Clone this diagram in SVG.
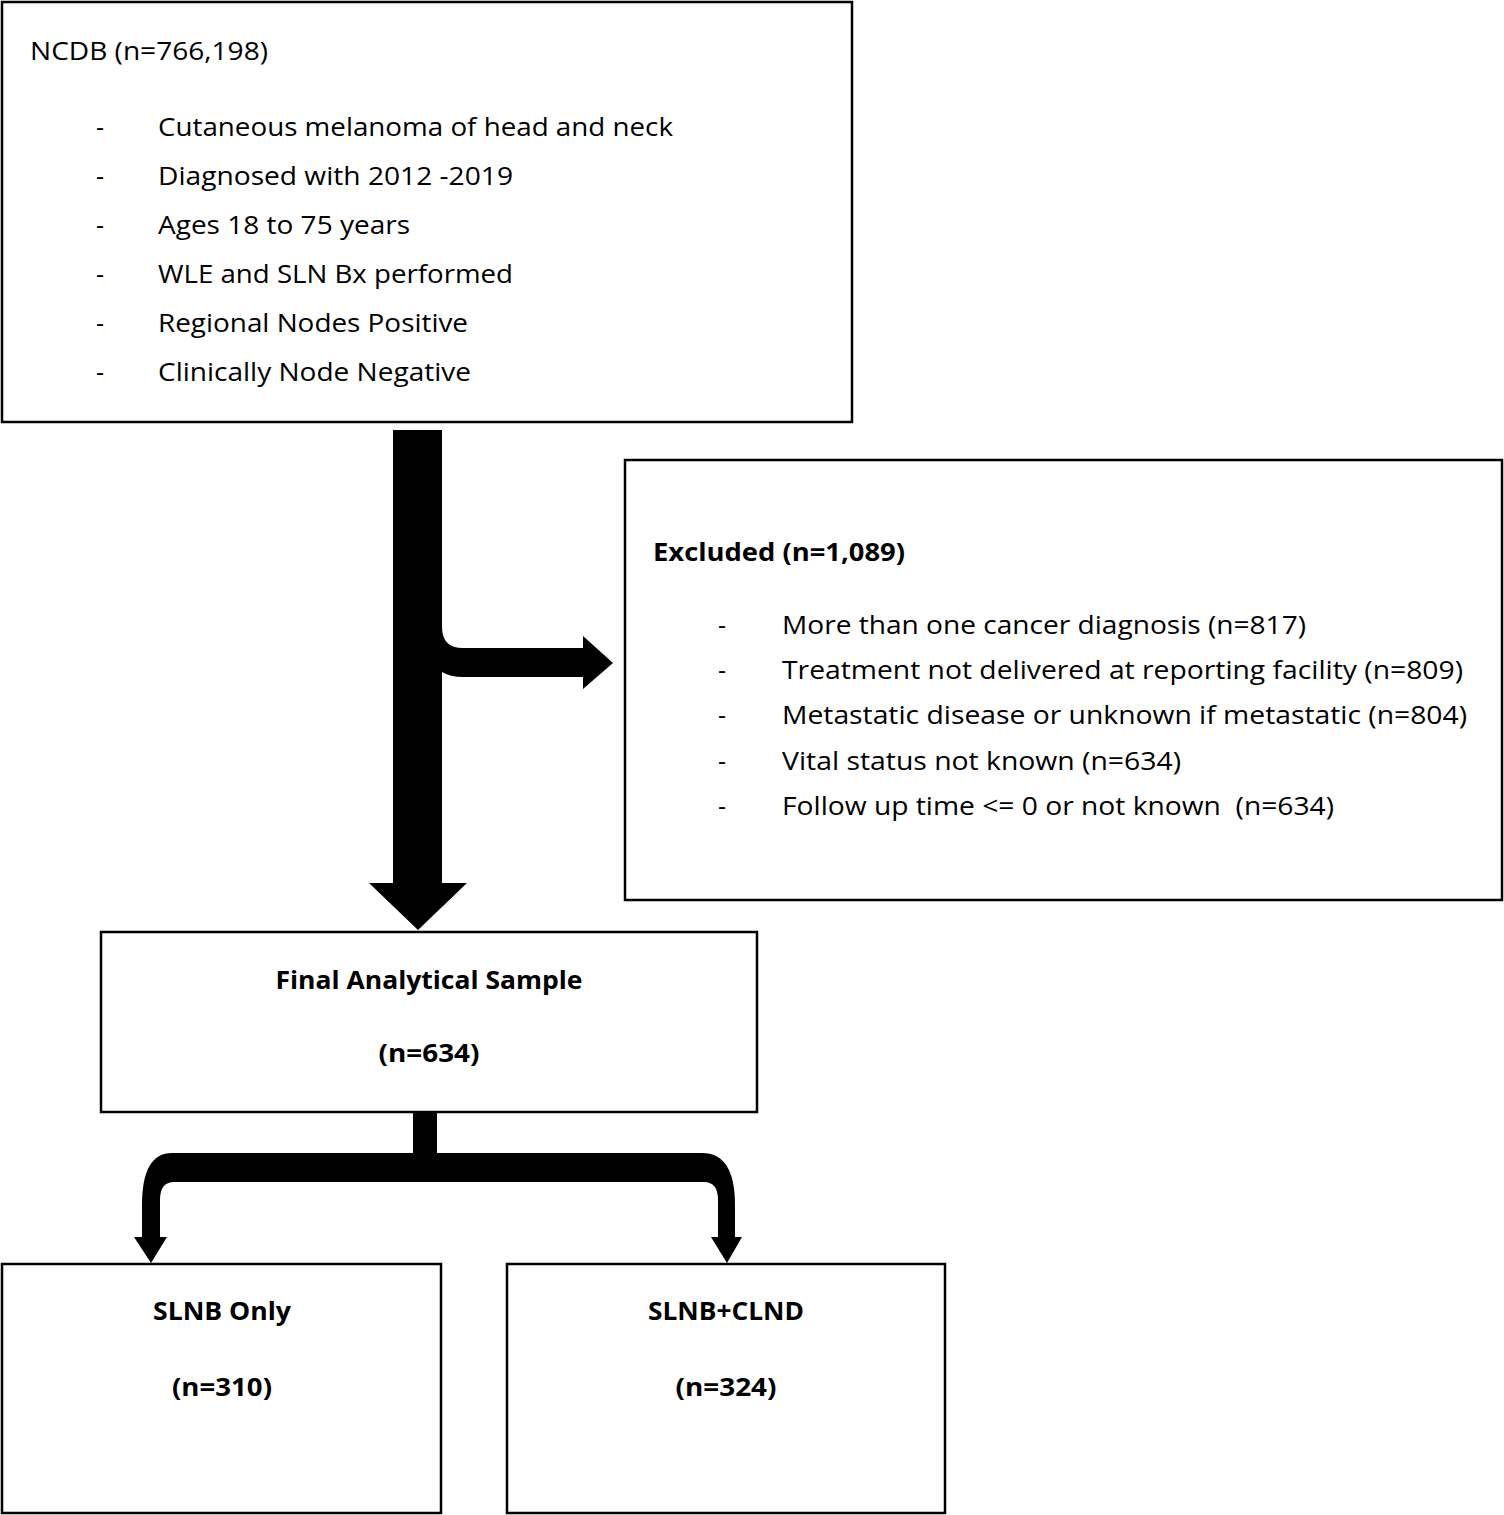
<svg xmlns="http://www.w3.org/2000/svg" width="1504" height="1515" viewBox="0 0 1504 1515">
<style>
.box{fill:#fff;stroke:#000;stroke-width:2.5}
.t{font-family:"Open Sans","Lato","Liberation Sans",sans-serif;font-size:25px;fill:#000}
.b{font-weight:bold}
.arrow{fill:#000;stroke:none}
</style>
<rect width="1504" height="1515" fill="#fff"/>
<g id="connectors">
<path class="arrow" d="M393 430 L442 430 L442 627 Q442 648 463 648 L583 648 L583 636 L613 663 L583 689 L583 677 L463 677 Q450 677 442 672 L442 883 L467 883 L418 930 L369 883 L393 883 Z"/>
<path class="arrow" d="M413 1113 L437 1113 L437 1153 L702 1153 Q735 1153 735 1205 L735 1237 L742 1237 L727 1263 L711 1237 L718 1237 L718 1200 Q718 1182 704 1182 L174 1182 Q160 1182 160 1200 L160 1237 L167 1237 L151 1263 L134 1237 L142 1237 L142 1205 Q142 1153 172 1153 L413 1153 Z"/>
</g>
<g id="ncdb">
<rect class="box" x="2" y="2" width="850" height="420"/>
<text class="t" x="30" y="60" textLength="238" lengthAdjust="spacingAndGlyphs">NCDB (n=766,198)</text>
<text class="t" x="96" y="136">-</text><text class="t" x="158" y="136" textLength="515" lengthAdjust="spacingAndGlyphs">Cutaneous melanoma of head and neck</text>
<text class="t" x="96" y="185">-</text><text class="t" x="158" y="185" textLength="355" lengthAdjust="spacingAndGlyphs">Diagnosed with 2012 -2019</text>
<text class="t" x="96" y="234">-</text><text class="t" x="158" y="234" textLength="252" lengthAdjust="spacingAndGlyphs">Ages 18 to 75 years</text>
<text class="t" x="96" y="283">-</text><text class="t" x="158" y="283" textLength="355" lengthAdjust="spacingAndGlyphs">WLE and SLN Bx performed</text>
<text class="t" x="96" y="332">-</text><text class="t" x="158" y="332" textLength="310" lengthAdjust="spacingAndGlyphs">Regional Nodes Positive</text>
<text class="t" x="96" y="381">-</text><text class="t" x="158" y="381" textLength="313" lengthAdjust="spacingAndGlyphs">Clinically Node Negative</text>
</g>
<g id="excluded">
<rect class="box" x="625" y="460" width="877" height="440"/>
<text class="t b" x="653" y="561" textLength="252" lengthAdjust="spacingAndGlyphs">Excluded (n=1,089)</text>
<text class="t" x="718" y="634">-</text><text class="t" x="782" y="634" textLength="524" lengthAdjust="spacingAndGlyphs">More than one cancer diagnosis (n=817)</text>
<text class="t" x="718" y="679">-</text><text class="t" x="782" y="679" textLength="681" lengthAdjust="spacingAndGlyphs">Treatment not delivered at reporting facility (n=809)</text>
<text class="t" x="718" y="724">-</text><text class="t" x="782" y="724" textLength="685" lengthAdjust="spacingAndGlyphs">Metastatic disease or unknown if metastatic (n=804)</text>
<text class="t" x="718" y="770">-</text><text class="t" x="782" y="770" textLength="399" lengthAdjust="spacingAndGlyphs">Vital status not known (n=634)</text>
<text class="t" x="718" y="815">-</text><text class="t" x="782" y="815" textLength="552" lengthAdjust="spacingAndGlyphs" xml:space="preserve">Follow up time &lt;= 0 or not known  (n=634)</text>
</g>
<g id="final">
<rect class="box" x="101" y="932" width="656" height="180"/>
<text class="t b" x="429" y="989" text-anchor="middle" textLength="307" lengthAdjust="spacingAndGlyphs">Final Analytical Sample</text>
<text class="t b" x="429" y="1062" text-anchor="middle" textLength="101" lengthAdjust="spacingAndGlyphs">(n=634)</text>
</g>
<g id="slnb-only">
<rect class="box" x="2" y="1264" width="439" height="249"/>
<text class="t b" x="222" y="1320" text-anchor="middle" textLength="138" lengthAdjust="spacingAndGlyphs">SLNB Only</text>
<text class="t b" x="222" y="1396" text-anchor="middle" textLength="100" lengthAdjust="spacingAndGlyphs">(n=310)</text>
</g>
<g id="slnb-clnd">
<rect class="box" x="507" y="1264" width="438" height="249"/>
<text class="t b" x="726" y="1320" text-anchor="middle" textLength="156" lengthAdjust="spacingAndGlyphs">SLNB+CLND</text>
<text class="t b" x="726" y="1396" text-anchor="middle" textLength="101" lengthAdjust="spacingAndGlyphs">(n=324)</text>
</g>
</svg>
